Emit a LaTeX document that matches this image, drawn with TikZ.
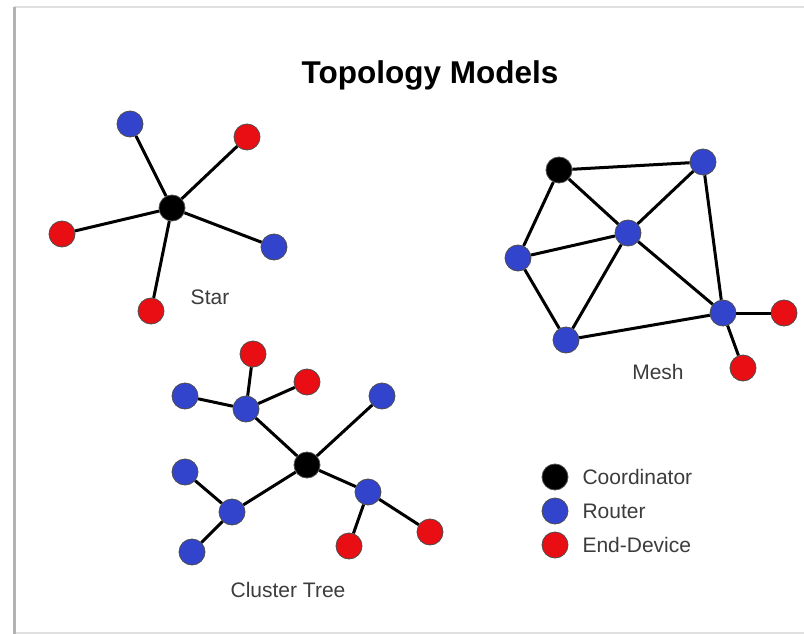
\documentclass[tikz,border=0pt]{standalone}
\usepackage{fontspec}
\setmainfont{Liberation Sans}
\definecolor{rblue}{RGB}{51,68,204}
\definecolor{rred}{RGB}{232,14,20}
\definecolor{txt}{RGB}{60,60,60}
\begin{document}
\begin{tikzpicture}[x=1pt,y=-1pt,
  dev/.style={circle,draw=black!70,line width=0.8pt,minimum size=26pt,inner sep=0pt},
  coord/.style={dev,fill=black},
  router/.style={dev,fill=rblue},
  enddev/.style={dev,fill=rred},
  link/.style={line width=3pt,black},
  lbl/.style={font=\fontsize{21}{24}\selectfont,text=txt}]
\useasboundingbox (0,0) rectangle (804,634);
\fill[white] (0,0) rectangle (804,634);
% frame
\draw[black!12,line width=2pt] (14,7) -- (820,7);
\draw[black!12,line width=2pt] (14,633) -- (820,633);
\draw[black!30,line width=3pt] (14,7) -- (14,634);
\node[font=\bfseries\fontsize{31.5}{36}\selectfont] (title) at (430,75) {Topology Models};
% Star
\node[coord] (sc) at (172,208) {};
\node[router] (s1) at (130,124) {};
\node[enddev] (s2) at (247,137) {};
\node[enddev] (s3) at (62,234) {};
\node[router] (s4) at (274,247) {};
\node[enddev] (s5) at (151,311) {};
\node[lbl] (starl) at (210,297) {Star};
% Mesh
\node[coord] (m0) at (559,170) {};
\node[router] (m1) at (703,162) {};
\node[router] (m2) at (628,233) {};
\node[router] (m3) at (518,258) {};
\node[router] (m4) at (566,340) {};
\node[router] (m5) at (723,313) {};
\node[enddev] (m6) at (784,313) {};
\node[enddev] (m7) at (743,368) {};
\node[lbl] (meshl) at (658,372) {Mesh};
% Cluster tree
\node[coord] (c0) at (307,465) {};
\node[router] (c1) at (246,409) {};
\node[router] (c2) at (185,396) {};
\node[enddev] (c3) at (253,354) {};
\node[enddev] (c4) at (307,382) {};
\node[router] (c5) at (382,396) {};
\node[router] (c6) at (368,492) {};
\node[enddev] (c7) at (349,546) {};
\node[enddev] (c8) at (430,532) {};
\node[router] (c9) at (232,512) {};
\node[router] (c10) at (185,472) {};
\node[router] (c11) at (192,552) {};
\node[lbl] (treel) at (288,590) {Cluster Tree};
% Legend
\node[coord] (lg1) at (555,477) {};
\node[router] (lg2) at (555,511) {};
\node[enddev] (lg3) at (555,545) {};
\node[lbl,anchor=west] (lt1) at (579,477) {Coordinator};
\node[lbl,anchor=west] (lt2) at (579,511) {Router};
\node[lbl,anchor=west] (lt3) at (579,545) {End-Device};
% links
\foreach \a/\b in {sc/s1,sc/s2,sc/s3,sc/s4,sc/s5,
  m0/m1,m0/m2,m0/m3,m3/m2,m3/m4,m4/m2,m4/m5,m2/m1,m2/m5,m1/m5,m5/m6,m5/m7,
  c0/c1,c1/c2,c1/c3,c1/c4,c0/c5,c0/c6,c6/c7,c6/c8,c0/c9,c9/c10,c9/c11}
  \draw[link] (\a) -- (\b);
\end{tikzpicture}
\end{document}
